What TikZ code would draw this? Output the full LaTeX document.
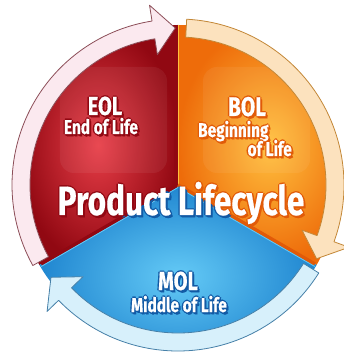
\documentclass[tikz,border=0pt]{standalone}
\usepackage{fontspec}
\newfontfamily\cyclefont[FakeStretch=0.77, BoldFeatures={FakeBold=0.4}]{Fira Sans}
\usetikzlibrary{calc}

\definecolor{eolred}{RGB}{205,30,40}
\definecolor{eollight}{RGB}{232,62,72}
\definecolor{eoldark}{RGB}{145,8,18}
\definecolor{bolorange}{RGB}{250,135,20}
\definecolor{bollight}{RGB}{255,192,62}
\definecolor{boldark}{RGB}{238,108,10}
\definecolor{bolglow}{RGB}{225,90,8}
\definecolor{molblue}{RGB}{32,134,208}
\definecolor{mollight}{RGB}{100,202,246}
\definecolor{moldark}{RGB}{18,90,165}
\definecolor{pinkband}{RGB}{251,233,239}
\definecolor{pinkedge}{RGB}{140,78,88}
\definecolor{peachband}{RGB}{252,226,190}
\definecolor{peachedge}{RGB}{195,135,55}
\definecolor{iceband}{RGB}{215,240,251}
\definecolor{iceedge}{RGB}{70,128,168}

\tikzset{
  lbl/.style={font=\cyclefont\bfseries\fontsize{#1}{#1}\selectfont, inner sep=0pt},
  arrowband/.style={line width=0.8pt, line join=round},
  sideface/.style={line width=3.5pt, draw=#1},
  gloss/.style={fill=white, fill opacity=0.06, rounded corners=14pt},
}

% band of the cycle, running clockwise from #1 to #2, head at the end
\newcommand\cyclearrow[3]{%
  \filldraw[arrowband, fill=#3band, draw=#3edge]
    (#1:166) arc[start angle=#1, end angle=#2, radius=166]
    -- (#2:182) -- ({#2-8}:157) -- (#2:132) -- (#2:148)
    arc[start angle=#2, end angle=#1, radius=148] -- cycle;}

% dark copies round a label, so the white text stands out
\newcommand\glowcopies[5]{%
  \foreach \dx/\dy in {-1.4/0,1.4/0,0/1.4,0/-1.4,1.2/-1.8,2/-2.4}
    \node[lbl=#3, anchor=#1, text=#5] at ($(#2)+(\dx,\dy)$) {#4};}

\newcommand\lifetext[6]{% name, anchor, position, size, text, glow
  \glowcopies{#2}{#3}{#4}{#5}{#6}
  \node[lbl=#4, anchor=#2, text=white] (#1) at (#3) {#5};}

\begin{document}
\begin{tikzpicture}[x=1pt, y=1pt]
  \useasboundingbox (-178,-173) rectangle (165,185);

  % the three phases
  \shade[inner color=eollight, outer color=eoldark]
    (0,0) -- (90:160) arc[start angle=90, end angle=210, radius=160] -- cycle;
  \shade[inner color=bollight, outer color=boldark]
    (0,0) -- (-30:160) arc[start angle=-30, end angle=90, radius=160] -- cycle;
  \shade[inner color=mollight, outer color=molblue]
    (0,0) -- (210:160) arc[start angle=210, end angle=330, radius=160] -- cycle;

  % glossy patches
  \fill[gloss] (-118,12) rectangle (-11,118);
  \fill[gloss] (25,12) rectangle (132,118);

  % side faces between the phases
  \draw[sideface=eoldark] (-2.5,0) -- (-2.5,160);
  \draw[line width=0.6pt, bollight] (0.5,0) -- (0.5,160);
  \draw[sideface=eoldark] (0,0) -- (210:158);
  \draw[sideface=bolglow] (0,0) -- (330:158);
  \draw[line width=0.8pt, mollight] (0,-2.5) -- ($(210:158)+(0,-2.5)$);
  \draw[line width=0.8pt, mollight] (0,-2.5) -- ($(330:158)+(0,-2.5)$);

  % arrows round the cycle
  \cyclearrow{209}{99}{pink}
  \cyclearrow{-32}{-136}{ice}
  \cyclearrow{87}{-20}{peach}

  % phase labels
  \lifetext{eol}{base}{-73,70}{26}{EOL}{eoldark}
  \lifetext{eolsub}{base}{-77,51}{20}{End of Life}{eoldark}
  \lifetext{bol}{base}{69,69}{27}{BOL}{bolglow}
  \lifetext{bolsub}{base west}{20,48}{20}{Beginning}{bolglow}
  \lifetext{bolsubb}{base east}{114,29}{20}{of Life}{bolglow}
  \lifetext{mol}{base}{0,-105}{26}{MOL}{moldark}
  \lifetext{molsub}{base}{1,-127}{20}{Middle of Life}{moldark}

  % title, its glow taking the colour of the phase beneath
  \foreach \from/\to/\glow in {90/210/eoldark, -30/90/bolglow, 210/330/moldark}{
    \begin{scope}
      \clip (0,0) -- (\from:200) arc[start angle=\from, end angle=\to, radius=200] -- cycle;
      \glowcopies{base}{3,-30}{41}{Product Lifecycle}{\glow}
    \end{scope}
  }
  \node[lbl=41, anchor=base, text=white] (title) at (3,-30) {Product Lifecycle};
\end{tikzpicture}
\end{document}
